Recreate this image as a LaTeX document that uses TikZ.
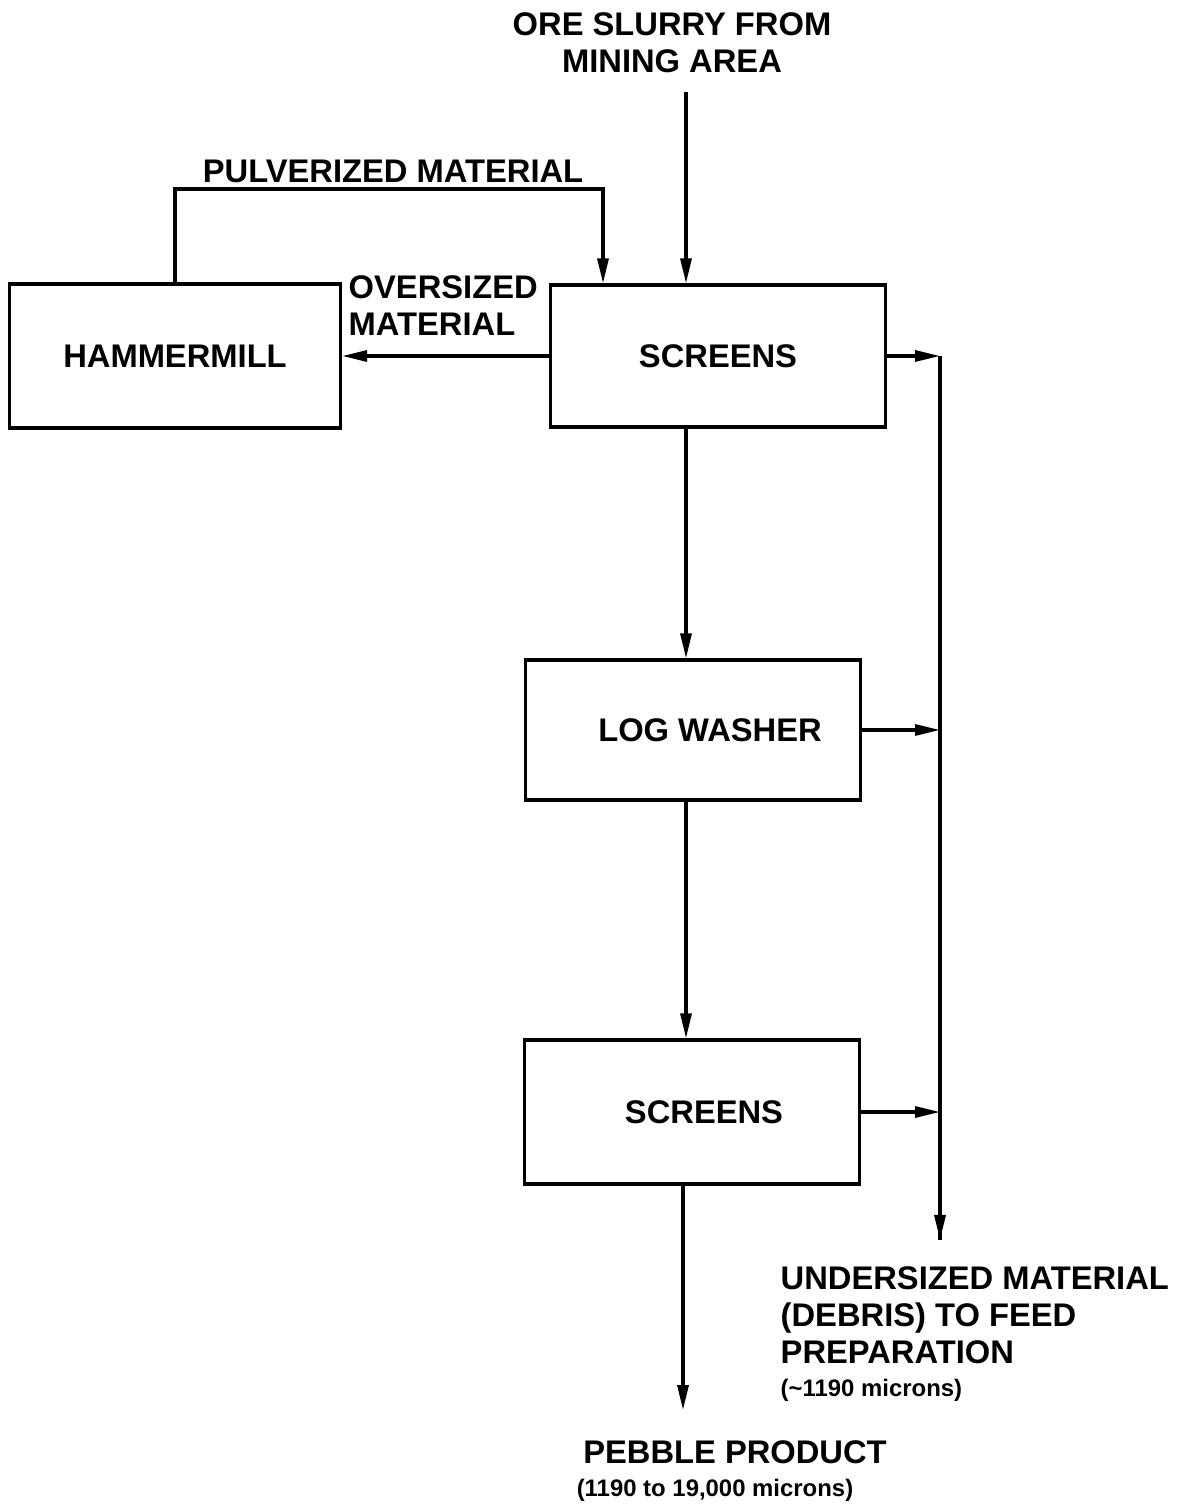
\documentclass[tikz,border=0pt]{standalone}
\usepackage{fontspec}
\setmainfont{Liberation Sans}
\usetikzlibrary{arrows.meta}
\tikzset{
  unitbox/.style={draw,line width=0.9pt,minimum width=3.35cm,
    minimum height=1.42cm,inner sep=0pt,font=\bigtxt},
  txt/.style={inner sep=0pt,font=\bigtxt},
  smalltxt/.style={inner sep=0pt,font=\smalltxtfont},
  flow/.style={-{Triangle[length=2.5mm,width=1.1mm]},line width=0.9pt},
  line/.style={line width=0.9pt}
}
\newcommand{\bigtxt}{\fontsize{9.3}{10.5}\selectfont\bfseries}
\newcommand{\smalltxtfont}{\fontsize{6.8}{8}\selectfont\bfseries}

\begin{document}
\begin{tikzpicture}[x=0.01cm,y=-0.01cm]
  \useasboundingbox (0,0) rectangle (1185,1507);

  % process units
  \node[unitbox,minimum width=3.31cm,minimum height=1.44cm] (ham) at (175,356) {HAMMERMILL};
  \node[unitbox] (scr1) at (718,356) {SCREENS};
  \node[unitbox,minimum height=1.40cm] (wash) at (693,730) {\hspace{0.34cm}LOG WASHER};
  \node[unitbox,minimum height=1.44cm] (scr2) at (692,1112) {\hspace{0.24cm}SCREENS};

  % feed
  \node[txt,align=center] (ore) at (672,43) {ORE SLURRY FROM\\MINING AREA};
  \coordinate (orein) at (686,92);
  \draw[flow] (orein) -- (orein |- scr1.north);

  % recycle loop
  \coordinate (pulv) at (603,189);
  \draw[flow] (ham.north) |- (pulv) -- (pulv |- scr1.north);
  \node[txt] (pulvlab) at (393,171) {PULVERIZED MATERIAL};
  \draw[flow] (scr1.west) -- (ham.east);
  \node[txt,align=left,anchor=north west] (overlab) at (348,275) {OVERSIZED\\MATERIAL};

  % main line
  \draw[flow] (scr1.south -| orein) -- (wash.north -| orein);
  \draw[flow] (wash.south -| orein) -- (scr2.north -| orein);
  \coordinate (pebin) at (683,1410);
  \draw[flow] (scr2.south -| pebin) -- (pebin);
  \node[txt] (pebble) at (735,1452) {PEBBLE PRODUCT};
  \node[smalltxt] (pebsize) at (715,1490) {(1190 to 19,000 microns)};

  % undersize collector
  \coordinate (col) at (940,356);
  \coordinate (colend) at (940,1240);
  \draw[line] (col) -- (colend);
  \draw[-{Triangle[length=2.5mm,width=1.1mm]},line width=0.9pt] (colend) ++(0,-1) -- (colend);
  \draw[flow] (scr1.east) -- (col);
  \draw[flow] (wash.east) -- (wash.east -| col);
  \draw[flow] (scr2.east) -- (scr2.east -| col);
  \node[txt,align=left,anchor=north west] (under) at (780,1266)
    {UNDERSIZED MATERIAL\\(DEBRIS) TO FEED\\PREPARATION\\[-1pt]
     {\smalltxtfont(\textasciitilde1190 microns)}};
\end{tikzpicture}
\end{document}
